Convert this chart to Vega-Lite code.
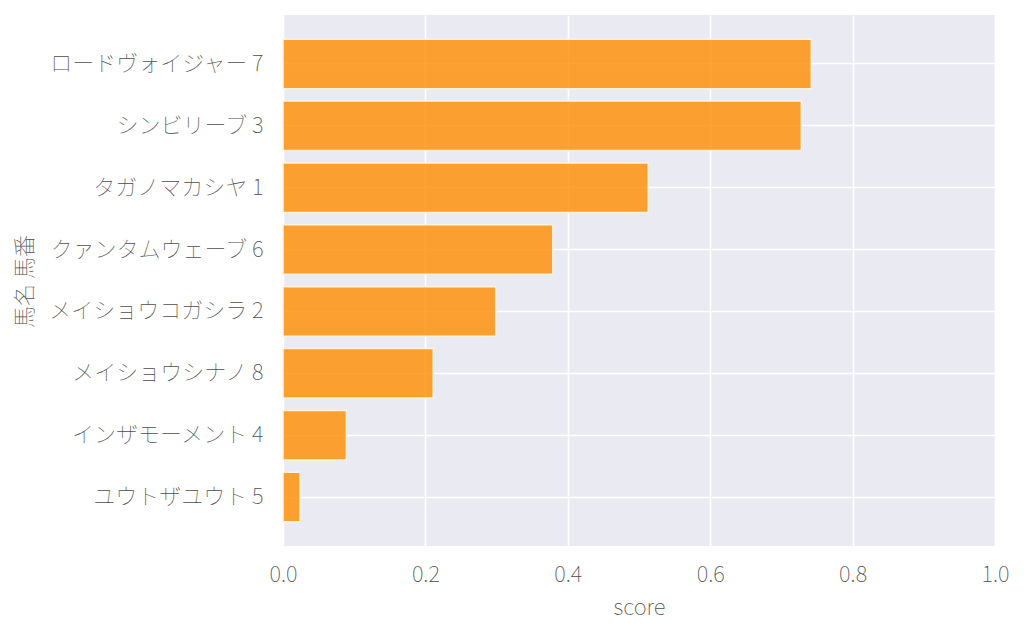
{
  "$schema": "https://vega.github.io/schema/vega-lite/v6.json",
  "autosize": "none",
  "width": 712,
  "height": 531,
  "padding": {"left": 283, "top": 15, "right": 29, "bottom": 92},
  "background": "white",
  "config": {
    "view": {"fill": "#EAEAF2", "stroke": null},
    "font": "Noto Sans CJK JP",
    "axis": {
      "domain": false,
      "ticks": false,
      "grid": true,
      "gridColor": "white",
      "gridWidth": 1.6,
      "labelFont": "Noto Sans CJK JP",
      "labelFontWeight": 100,
      "labelFontSize": 22,
      "labelLimit": 0,
      "labelColor": "#4d4d4d",
      "titleFont": "Noto Sans CJK JP",
      "titleFontWeight": 100,
      "titleFontSize": 22,
      "titleColor": "#4d4d4d"
    }
  },
  "data": {
    "values": [
      {"horse": "ロードヴォイジャー 7", "score": 0.742},
      {"horse": "シンビリーブ 3", "score": 0.728},
      {"horse": "タガノマカシヤ 1", "score": 0.513},
      {"horse": "クァンタムウェーブ 6", "score": 0.379},
      {"horse": "メイショウコガシラ 2", "score": 0.299},
      {"horse": "メイショウシナノ 8", "score": 0.211},
      {"horse": "インザモーメント 4", "score": 0.089},
      {"horse": "ユウトザユウト 5", "score": 0.024}
    ]
  },
  "mark": {
    "type": "bar",
    "color": "#FF8C00",
    "fillOpacity": 0.8,
    "stroke": "#FFF3E0",
    "strokeWidth": 1.5
  },
  "encoding": {
    "y": {
      "field": "horse",
      "type": "nominal",
      "sort": null,
      "title": "馬名 馬番",
      "scale": {"paddingInner": 0.2, "paddingOuter": 0.39},
      "axis": {"labelPadding": 20, "titleX": -259, "titleY": 266, "titleAnchor": "middle", "titleBaseline": "middle", "titleAngle": -90}
    },
    "x": {
      "field": "score",
      "type": "quantitative",
      "title": "score",
      "scale": {"domain": [0, 1], "nice": false},
      "axis": {"values": [0, 0.2, 0.4, 0.6, 0.8, 1.0], "format": ".1f", "labelFlush": false, "labelPadding": 18, "titlePadding": 12}
    }
  }
}
